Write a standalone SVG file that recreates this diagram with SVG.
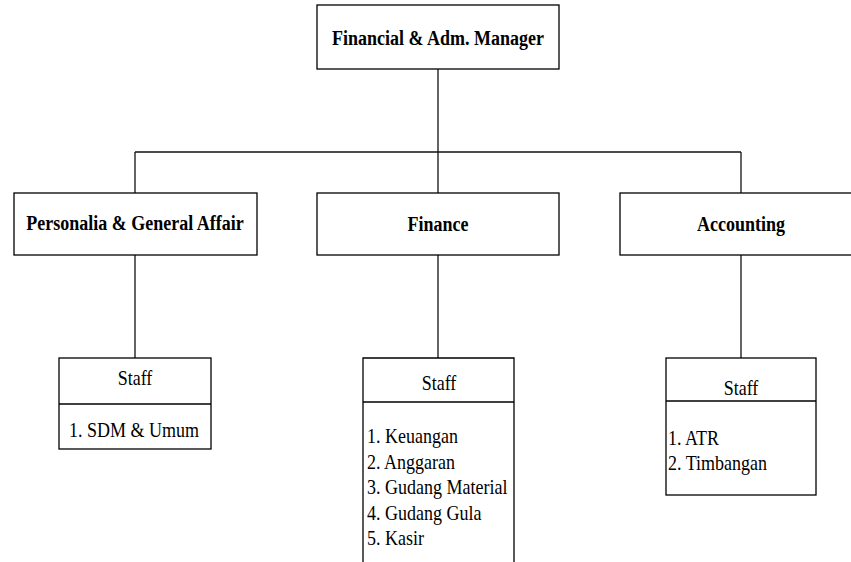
<svg xmlns="http://www.w3.org/2000/svg" width="851" height="562" viewBox="0 0 851 562">
<style>
.box{fill:#fff;stroke:#000;stroke-width:1.3}
.ln{fill:none;stroke:#111;stroke-width:1.3}
.t{font-family:'Liberation Serif','Times New Roman',serif;font-size:18px;fill:#000}
.b{font-weight:bold;text-anchor:middle}
.c{text-anchor:middle}
</style>
<rect width="851" height="562" fill="#fff"/>
<g id="connectors">
<line class="ln" x1="438" y1="69" x2="438" y2="152"/>
<line class="ln" x1="135" y1="152" x2="741" y2="152"/>
<line class="ln" x1="135" y1="152" x2="135" y2="193"/>
<line class="ln" x1="438" y1="152" x2="438" y2="193"/>
<line class="ln" x1="741" y1="152" x2="741" y2="193"/>
<line class="ln" x1="135" y1="255" x2="135" y2="358"/>
<line class="ln" x1="438" y1="255" x2="438" y2="358"/>
<line class="ln" x1="741" y1="255" x2="741" y2="358"/>
</g>
<g id="manager">
<rect class="box" x="317" y="5" width="242" height="64"/>
<text class="t b" transform="translate(438,45) scale(1,1.17)">Financial &amp; Adm. Manager</text>
</g>
<g id="personalia">
<rect class="box" x="14" y="193" width="243" height="62"/>
<text class="t b" transform="translate(135,230) scale(1,1.17)">Personalia &amp; General Affair</text>
</g>
<g id="finance">
<rect class="box" x="317" y="193" width="242" height="62"/>
<text class="t b" transform="translate(438,231) scale(1,1.17)">Finance</text>
</g>
<g id="accounting">
<rect class="box" x="620" y="193" width="242" height="62"/>
<text class="t b" transform="translate(741,231) scale(1,1.17)">Accounting</text>
</g>
<g id="staff-personalia">
<rect class="box" x="59" y="358" width="152" height="91"/>
<line class="box" x1="59" y1="404" x2="211" y2="404"/>
<text class="t c" transform="translate(135,385) scale(1,1.17)">Staff</text>
<text class="t" transform="translate(69,437) scale(1,1.17)">1. SDM &amp; Umum</text>
</g>
<g id="staff-finance">
<path class="box" d="M363,563 V358 H514 V563"/>
<line class="box" x1="363" y1="402" x2="514" y2="402"/>
<text class="t c" transform="translate(439,390) scale(1,1.17)">Staff</text>
<text class="t" transform="translate(367,443) scale(1,1.17)">1. Keuangan</text>
<text class="t" transform="translate(367,468.5) scale(1,1.17)">2. Anggaran</text>
<text class="t" transform="translate(367,494) scale(1,1.17)">3. Gudang Material</text>
<text class="t" transform="translate(367,519.5) scale(1,1.17)">4. Gudang Gula</text>
<text class="t" transform="translate(367,545) scale(1,1.17)">5. Kasir</text>
</g>
<g id="staff-accounting">
<rect class="box" x="666" y="358" width="150" height="137"/>
<line class="box" x1="666" y1="401" x2="816" y2="401"/>
<text class="t c" transform="translate(741,395) scale(1,1.17)">Staff</text>
<text class="t" transform="translate(668,445) scale(1,1.17)">1. ATR</text>
<text class="t" transform="translate(668,470) scale(1,1.17)">2. Timbangan</text>
</g>
</svg>
